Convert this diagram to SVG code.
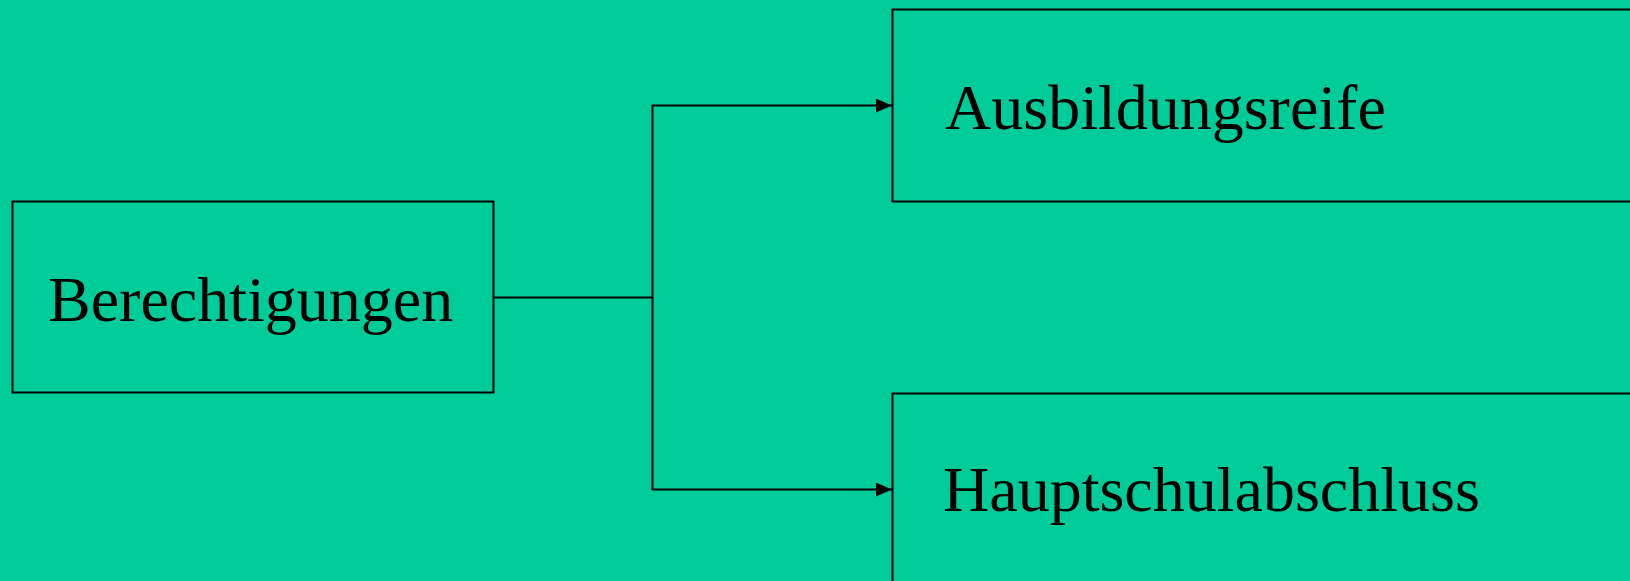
<svg xmlns="http://www.w3.org/2000/svg" width="1630" height="581" viewBox="0 0 1630 581">
<style>
.box{fill:#00CC99;stroke:#000;stroke-width:2}
.lbl{font-family:"Liberation Serif","Times New Roman",serif;font-size:64px;fill:#000}
.con{fill:none;stroke:#000;stroke-width:2}
</style>
<defs>
<marker id="arr" markerUnits="userSpaceOnUse" markerWidth="16" markerHeight="14" refX="16" refY="7" orient="auto">
<path d="M0,0 L16,7 L0,14 Z" fill="#000"/>
</marker>
</defs>
<rect width="1630" height="581" fill="#00CC99"/>
<g id="node-berechtigungen">
<rect class="box" x="12.5" y="201.5" width="481" height="191"/>
<text class="lbl" x="48" y="321">Berechtigungen</text>
</g>
<g id="node-ausbildungsreife">
<rect class="box" x="892.5" y="9.5" width="760" height="192"/>
<text class="lbl" x="945" y="129">Ausbildungsreife</text>
</g>
<g id="node-hauptschulabschluss">
<rect class="box" x="892.5" y="393.5" width="760" height="220"/>
<text class="lbl" x="943" y="511">Hauptschulabschluss</text>
</g>
<g id="connectors">
<path class="con" d="M493.5,297.5 H652.5 V105.5 H892" marker-end="url(#arr)"/>
<path class="con" d="M652.5,297.5 V489.5 H892" marker-end="url(#arr)"/>
</g>
</svg>
